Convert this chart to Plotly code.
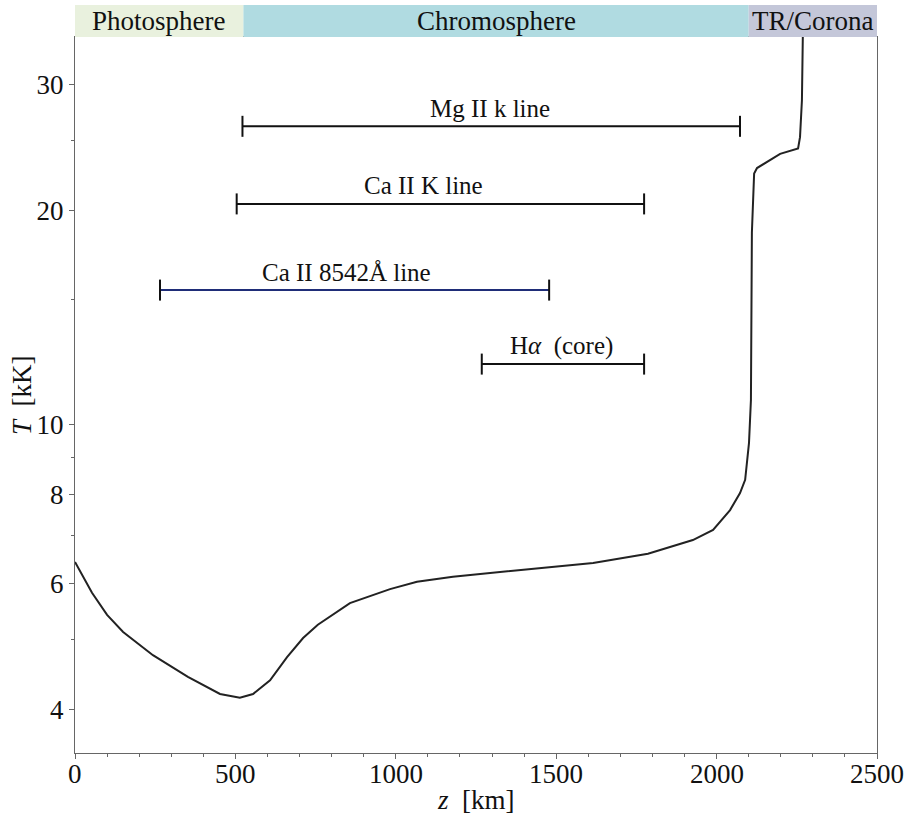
import math
import plotly.graph_objects as go

# Temperature stratification of the solar atmosphere
height_km = [0, 53, 100, 150, 243, 352, 452, 514, 555, 608, 661, 711, 757, 857,
             982, 1066, 1178, 1315, 1471, 1615, 1786, 1926, 1989, 2042, 2073,
             2089, 2101, 2107, 2110, 2117, 2126, 2198, 2254, 2260, 2266, 2269, 2276]
temp_kK = [6.43, 5.82, 5.42, 5.13, 4.76, 4.44, 4.20, 4.15, 4.20, 4.39, 4.73, 5.03,
           5.25, 5.63, 5.89, 6.03, 6.13, 6.22, 6.31, 6.41, 6.60, 6.90, 7.13, 7.60,
           8.03, 8.38, 9.44, 10.84, 18.6, 22.5, 22.9, 23.97, 24.4, 25.3, 28.5, 35.0, 60.0]

# Formation height ranges of spectral lines
line_names = ["Mg II k line", "Ca II K line", "Ca II 8542Å line", "H<i>α</i>\u2002(core)"]
line_start_km = [522, 504, 265, 1268]
line_end_km = [2073, 1774, 1478, 1774]
line_temp_kK = [26.2, 20.4, 15.45, 12.17]
line_label_km = [1295, 1085, 845, 1515]
line_colors = ["#111111", "#111111", "#1f2d78", "#111111"]

# Atmospheric layers shown above the axes
region_names = ["Photosphere", "Chromosphere", "TR/Corona"]
region_start_km = [0, 525, 2100]
region_end_km = [525, 2100, 2500]
region_colors = ["#e9f1de", "#b0dbe1", "#c4c7d9"]

x_ticks = [0, 500, 1000, 1500, 2000, 2500]
y_ticks = [4, 6, 8, 10, 20, 30]
y_minor = [5, 7, 9, 15, 25]

FONT = "Liberation Serif"
AX = "#666666"
INK = "#111111"

fig = go.Figure()

fig.add_trace(go.Scatter(
    x=height_km, y=temp_kK, mode="lines",
    line=dict(color="#222222", width=2), showlegend=False, hoverinfo="skip"))

for x0, x1, t, c in zip(line_start_km, line_end_km, line_temp_kK, line_colors):
    fig.add_trace(go.Scatter(
        x=[x0, x1], y=[t, t], mode="lines",
        line=dict(color=c, width=2), showlegend=False, hoverinfo="skip"))
    fig.add_trace(go.Scatter(
        x=[x0, x1], y=[t, t], mode="markers",
        marker=dict(symbol="line-ns", size=15, line=dict(color=INK, width=2)),
        showlegend=False, hoverinfo="skip"))

annotations = []
for name, xl, t in zip(line_names, line_label_km, line_temp_kK):
    # annotation positions on a log axis are given in log10 units
    annotations.append(dict(
        x=xl, y=math.log10(t), xref="x", yref="y", text=name, showarrow=False,
        yanchor="middle", yshift=18,
        font=dict(family=FONT, size=25, color=INK)))

band_h = 32 / 716
shapes = []
for name, s, e, c in zip(region_names, region_start_km, region_end_km, region_colors):
    shapes.append(dict(
        type="rect", xref="x", yref="paper", x0=s, x1=e, y0=1, y1=1 + band_h,
        fillcolor=c, line=dict(width=0), layer="above"))
    annotations.append(dict(
        x=(s + e) / 2, y=1 + band_h / 2, xref="x", yref="paper", text=name,
        showarrow=False, yanchor="middle",
        font=dict(family=FONT, size=27, color=INK)))

# x tick labels, set just below the tick marks
for v in x_ticks:
    annotations.append(dict(
        x=v, y=0, xref="x", yref="paper", text=str(v), showarrow=False,
        xanchor="center", yanchor="middle", yshift=-21,
        font=dict(family=FONT, size=27, color=INK)))

# axis titles
annotations.append(dict(
    x=0.5, y=0, xref="paper", yref="paper", text="<i>z</i>\u2002[km]",
    showarrow=False, xanchor="center", yanchor="middle", yshift=-47,
    font=dict(family=FONT, size=27, color=INK)))
annotations.append(dict(
    x=0, y=0.5, xref="paper", yref="paper", text="<i>T</i>\u2002[kK]",
    showarrow=False, xanchor="center", yanchor="middle", xshift=-53, textangle=-90,
    font=dict(family=FONT, size=27, color=INK)))

fig.update_layout(
    width=911, height=816,
    margin=dict(l=75, r=34, t=37, b=63),
    paper_bgcolor="white", plot_bgcolor="white",
    font=dict(family=FONT, size=27, color=INK),
    shapes=shapes, annotations=annotations,
    xaxis=dict(
        range=[0, 2500], tickvals=x_ticks, showticklabels=False,
        ticks="outside", ticklen=5, tickwidth=1.2, tickcolor=AX,
        minor=dict(dtick=100, tick0=0, ticks="outside", ticklen=3, tickcolor=AX, tickwidth=1),
        showline=True, linecolor=AX, linewidth=1.2, mirror=True,
        showgrid=False, zeroline=False, automargin=False),
    yaxis=dict(
        type="log", range=[0.5406, 1.5434],
        tickvals=y_ticks, ticktext=[str(v) for v in y_ticks],
        ticks="outside", ticklen=5, tickwidth=1.2, tickcolor=AX,
        minor=dict(tickvals=y_minor, ticks="outside", ticklen=3, tickcolor=AX, tickwidth=1),
        showline=True, linecolor=AX, linewidth=1.2, mirror=True,
        showgrid=False, zeroline=False, automargin=False,
        tickfont=dict(family=FONT, size=27, color=INK)),
)

fig.write_html("out.html")
